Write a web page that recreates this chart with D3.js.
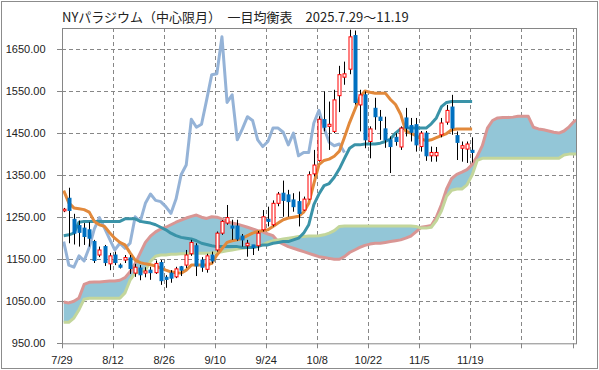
<!DOCTYPE html>
<html><head><meta charset="utf-8">
<script src="https://cdn.jsdelivr.net/npm/d3@7/dist/d3.min.js"></script>
<style>body{margin:0;background:#fff} svg{display:block}</style>
</head><body><svg id="c" width="599" height="370"></svg>
<script>
const title = "NYパラジウム（中心限月）　一目均衡表　2025.7.29～11.19";
const tickLabels = ["7/29","8/12","8/26","9/10","9/24","10/8","10/22","11/5","11/19"];
const yTicks = [950,1050,1150,1250,1350,1450,1550,1650];

const open  = [1265,1295,1245,1230,1224,1220,1192,1160,1180,1139,1160,1136,1148,1153,1117,1129,1117,1124,1118,1142,1107,1117,1108,1132,1136,1163,1182,1148,1126,1160,1172,1212,1236,1229,1229,1205,1182,1184,1182,1220,1245,1232,1283,1307,1303,1291,1287,1267,1293,1353,1385,1482,1466,1454,1539,1583,1602,1682,1517,1541,1430,1509,1488,1460,1434,1440,1417,1486,1468,1470,1418,1450,1396,1396,1446,1476,1512,1444,1414,1412,1409];
const high  = [1272,1320,1258,1242,1236,1238,1196,1180,1184,1165,1168,1140,1160,1160,1139,1136,1131,1132,1147,1148,1112,1124,1132,1134,1172,1196,1188,1155,1163,1168,1216,1243,1279,1244,1244,1210,1196,1184,1217,1267,1275,1290,1310,1337,1315,1307,1311,1299,1359,1410,1490,1549,1525,1553,1610,1620,1696,1694,1553,1549,1466,1534,1505,1489,1442,1450,1466,1510,1486,1486,1455,1455,1418,1417,1486,1517,1541,1454,1430,1430,1440];
const low   = [1262,1188,1185,1180,1184,1180,1141,1155,1134,1124,1136,1128,1141,1115,1108,1100,1107,1101,1115,1089,1082,1094,1105,1110,1129,1158,1110,1120,1118,1140,1168,1208,1232,1196,1194,1180,1156,1160,1170,1216,1228,1228,1276,1251,1251,1263,1228,1265,1291,1347,1382,1454,1410,1450,1500,1565,1590,1518,1454,1414,1390,1458,1434,1415,1355,1420,1410,1442,1430,1406,1406,1384,1382,1382,1440,1470,1446,1386,1382,1379,1380];
const close = [1269,1266,1212,1214,1204,1200,1147,1172,1142,1158,1142,1131,1154,1128,1131,1113,1122,1118,1140,1099,1102,1105,1127,1124,1160,1190,1134,1131,1158,1146,1212,1240,1249,1224,1198,1196,1188,1178,1212,1251,1240,1283,1305,1290,1287,1275,1259,1293,1351,1374,1483,1464,1471,1529,1589,1591,1679,1523,1541,1434,1460,1489,1480,1434,1418,1430,1462,1462,1452,1422,1450,1396,1404,1404,1474,1504,1462,1428,1420,1424,1404];

const conversion = [1313,1284,1272,1270,1268,1262,1240,1232,1228,1213,1200,1190,1184,1165,1148,1142,1139,1137,1134,1129,1124,1120,1118,1117,1124,1136,1136,1136,1136,1140,1160,1175,1190,1194,1196,1200,1206,1212,1216,1218,1220,1228,1236,1244,1248,1250,1252,1262,1283,1330,1375,1385,1388,1395,1407,1440,1475,1505,1535,1550,1547,1545,1545,1545,1530,1518,1495,1455,1450,1444,1436,1432,1434,1439,1444,1449,1458,1460,1460,1460,1460];
const base = [1206,1208,1212,1238,1240,1240,1240,1240,1240,1240,1240,1240,1246,1246,1246,1240,1238,1236,1232,1226,1220,1212,1206,1202,1200,1198,1194,1188,1185,1182,1180,1180,1180,1180,1180,1178,1178,1178,1180,1184,1184,1188,1190,1192,1192,1196,1200,1212,1232,1280,1305,1325,1330,1345,1365,1390,1414,1422,1422,1424,1424,1424,1426,1430,1436,1450,1460,1462,1462,1462,1462,1462,1472,1486,1513,1523,1525,1525,1525,1525,1525];
const lagging = [1192,1136,1131,1158,1146,1178,1222,1249,1224,1198,1172,1188,1176,1188,1251,1240,1283,1305,1290,1287,1275,1259,1293,1351,1374,1483,1464,1471,1529,1589,1591,1679,1523,1541,1434,1460,1489,1480,1434,1418,1430,1462,1462,1452,1422,1450,1396,1404,1404,1474,1504,1462,1428,1420,1424,1404];
const spanA = [1048,1046,1050,1058,1090,1095,1096,1096,1097,1098,1098,1100,1106,1120,1140,1165,1190,1205,1215,1222,1226,1232,1238,1243,1248,1252,1255,1250,1247,1251,1250,1246,1240,1236,1233,1230,1226,1222,1218,1215,1210,1206,1192,1186,1180,1176,1172,1168,1164,1160,1156,1154,1152,1150,1150,1156,1166,1172,1178,1183,1186,1188,1188,1190,1192,1194,1196,1200,1205,1215,1226,1228,1230,1250,1280,1317,1342,1352,1357,1363,1375,1395,1420,1462,1480,1486,1487,1487,1488,1490,1490,1490,1464,1460,1458,1455,1452,1450,1455,1465,1478,1484];
const spanB = [1000,1000,1010,1030,1055,1057,1057,1057,1057,1057,1057,1057,1070,1100,1117,1120,1124,1145,1157,1160,1160,1162,1162,1163,1163,1164,1164,1164,1164,1165,1166,1168,1170,1172,1174,1176,1178,1180,1182,1184,1190,1194,1196,1198,1200,1202,1204,1204,1205,1205,1206,1208,1212,1218,1228,1229,1229,1229,1229,1229,1229,1229,1229,1229,1229,1229,1229,1229,1229,1228,1224,1224,1226,1242,1265,1300,1314,1317,1317,1327,1350,1385,1390,1390,1390,1390,1390,1390,1390,1390,1390,1390,1390,1390,1390,1390,1390,1390,1398,1400,1400,1400];

const svg = d3.select("#c");
const L = 62, R = 577, T = 28, B = 343.3;
const x = d3.scaleLinear().domain([0, 100.88]).range([L, R]);
const xi = i => x(i + 1/3);
const y = d3.scaleLinear().domain([950, 1700]).range([B, T]);
const grid = "#878787";

svg.append("rect").attr("x",1.5).attr("y",1.5).attr("width",596).attr("height",367)
  .attr("fill","#fff").attr("stroke","#8c8c8c").attr("stroke-width",1);

svg.append("defs").append("clipPath").attr("id","clip")
  .append("rect").attr("x",L).attr("y",T).attr("width",R-L).attr("height",B-T);

// gridlines
const g = svg.append("g");
g.selectAll(".hg").data(yTicks.slice(1)).join("line")
  .attr("x1",L).attr("x2",R).attr("y1",d=>Math.round(y(d))+0.5).attr("y2",d=>Math.round(y(d))+0.5)
  .attr("stroke",grid).attr("stroke-dasharray","4,3");
const vk = d3.range(1, 11);
g.selectAll(".vg").data(vk).join("line")
  .attr("x1",d=>Math.round(x(d*10))+0.5).attr("x2",d=>Math.round(x(d*10))+0.5).attr("y1",T).attr("y2",B)
  .attr("stroke",grid).attr("stroke-dasharray","4,3");

const plot = svg.append("g").attr("clip-path","url(#clip)");
const idxA = d3.range(spanA.length);
plot.append("path").datum(idxA)
  .attr("d", d3.area().x(i=>xi(i)).y0(i=>y(spanB[i])).y1(i=>y(spanA[i])))
  .attr("fill","#93c6d7");
const line = arr => d3.line().x(i=>xi(i)).y(i=>y(arr[i]));
plot.append("path").datum(idxA).attr("d", line(spanA)).attr("fill","none").attr("stroke","#d99694").attr("stroke-width",3).attr("stroke-linejoin","round");
plot.append("path").datum(d3.range(spanB.length)).attr("d", line(spanB)).attr("fill","none").attr("stroke","#c3d69b").attr("stroke-width",3).attr("stroke-linejoin","round");
plot.append("path").datum(d3.range(lagging.length)).attr("d", line(lagging)).attr("fill","none").attr("stroke","#95b3d7").attr("stroke-width",3).attr("stroke-linejoin","round");
plot.append("path").datum(d3.range(base.length)).attr("d", line(base)).attr("fill","none").attr("stroke","#3a93a8").attr("stroke-width",3).attr("stroke-linejoin","round");
plot.append("path").datum(d3.range(conversion.length)).attr("d", line(conversion)).attr("fill","none").attr("stroke","#e2893b").attr("stroke-width",3).attr("stroke-linejoin","round");

// candles
const ci = d3.range(close.length);
plot.selectAll(".wick").data(ci).join("line")
  .attr("x1",i=>Math.round(xi(i))+0.5).attr("x2",i=>Math.round(xi(i))+0.5)
  .attr("y1",i=>y(high[i])).attr("y2",i=>y(low[i])).attr("stroke","#000").attr("stroke-width",1);
plot.selectAll(".body").data(ci).join("rect")
  .attr("x",i=>Math.round(xi(i))-1)
  .attr("width",3)
  .attr("y",i=>y(Math.max(open[i],close[i])))
  .attr("height",i=>Math.max(1,Math.abs(y(open[i])-y(close[i]))))
  .attr("fill",i=>close[i]>=open[i]?"#fff":"#0070c0")
  .attr("stroke",i=>close[i]>=open[i]?"#ff0000":"#0070c0").attr("stroke-width",1);

// plot border
svg.append("rect").attr("x",L+0.5).attr("y",T+0.5).attr("width",R-L-1).attr("height",B-T)
  .attr("fill","none").attr("stroke","#868686");

// axes
const yAxis = svg.append("g");
yAxis.selectAll("line").data(yTicks).join("line")
  .attr("x1",L-5).attr("x2",L).attr("y1",d=>Math.round(y(d))+0.5).attr("y2",d=>Math.round(y(d))+0.5).attr("stroke","#868686");
yAxis.selectAll("text").data(yTicks).join("text")
  .attr("x",45.5).attr("y",d=>y(d)+4).attr("text-anchor","end")
  .attr("font-family","Liberation Sans, Arial, sans-serif").attr("font-size",11).attr("fill","#222")
  .text(d=>d3.format(".2f")(d));
const xAxis = svg.append("g");
xAxis.selectAll("line").data(d3.range(0,11)).join("line")
  .attr("x1",d=>Math.round(x(d*10))+0.5).attr("x2",d=>Math.round(x(d*10))+0.5).attr("y1",B).attr("y2",B+5).attr("stroke","#868686");
xAxis.selectAll("text").data(tickLabels).join("text")
  .attr("x",(d,k)=>x(k*10)).attr("y",364).attr("text-anchor","middle")
  .attr("font-family","Liberation Sans, Arial, sans-serif").attr("font-size",11).attr("fill","#222")
  .text(d=>d);

svg.append("text").attr("x",62).attr("y",22)
  .attr("font-family","Noto Sans CJK JP, sans-serif").attr("font-size",13).attr("fill","#222")
  .text(title);
</script></body></html>
